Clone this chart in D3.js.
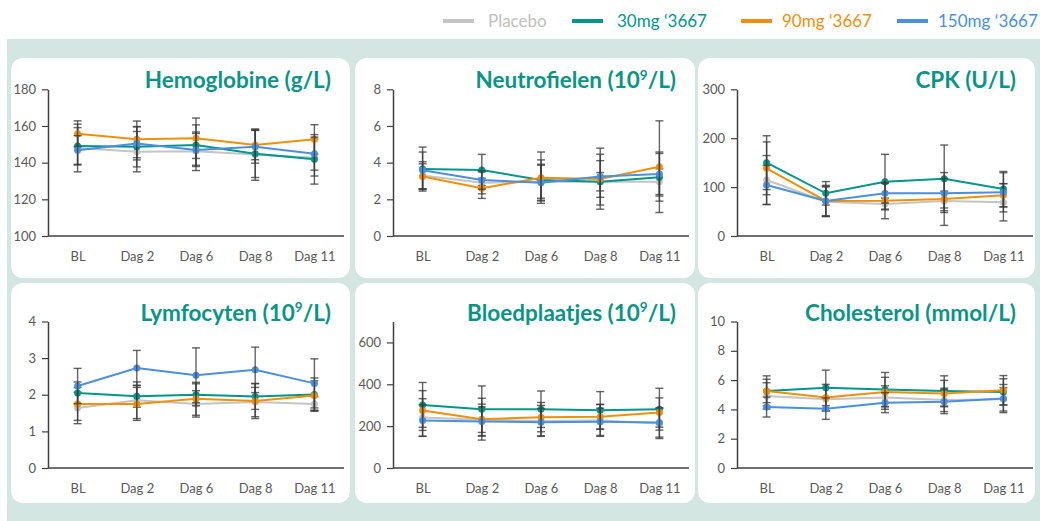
<!DOCTYPE html>
<html>
<head>
<meta charset="utf-8">
<script src="https://cdn.jsdelivr.net/npm/d3@7"></script>
<style>
  html, body { margin: 0; padding: 0; background: #ffffff; }
  svg { display: block; font-family: "Lato", "Open Sans", sans-serif; }
</style>
</head>
<body>
<svg id="chart" width="1040" height="521"></svg>
<script>
// Visit labels shared by every panel
const visits = ["BL", "Dag 2", "Dag 6", "Dag 8", "Dag 11"];

// Treatment groups (legend order)
const groups = ["Placebo", "30mg \u20183667", "90mg \u20183667", "150mg \u20183667"];
const groupColors = ["#c4c4c4", "#00968a", "#f0900a", "#4a8fe0"];

// Means per group (rows: Placebo, 30mg, 90mg, 150mg) and standard deviations
const hbMeans = [
  [148.0, 146.0, 146.2, 144.4, 142.7],
  [149.1, 148.7, 149.6, 144.9, 141.8],
  [155.8, 152.7, 153.3, 149.6, 152.7],
  [146.7, 150.5, 146.9, 148.7, 144.9]
];
const hbSD = [
  [13, 11, 10.5, 14, 10],
  [10, 11, 11, 13, 13.5],
  [7, 10, 11, 8, 8],
  [8, 9, 9, 9, 9]
];

const neutMeans = [
  [3.30, 2.90, 2.96, 2.96, 2.96],
  [3.65, 3.60, 3.05, 2.96, 3.20],
  [3.24, 2.60, 3.18, 3.11, 3.78],
  [3.58, 3.05, 2.91, 3.24, 3.38]
];
const neutSD = [
  [0.75, 0.60, 0.90, 0.50, 0.70],
  [1.20, 0.85, 1.10, 1.50, 1.30],
  [0.70, 0.55, 1.40, 1.00, 2.50],
  [1.00, 0.50, 1.00, 1.55, 1.20]
];

const cpkMeans = [
  [114.5, 70.2, 65.5, 71.6, 68.9],
  [150.0, 87.3, 111.0, 117.0, 96.0],
  [138.4, 71.6, 72.3, 75.7, 83.2],
  [104.3, 71.6, 87.3, 87.3, 89.3]
];
const cpkSD = [
  [50, 30, 12, 20, 38],
  [55, 24, 56, 69, 36],
  [54, 32, 37, 54, 24],
  [40, 30, 20, 30, 40]
];

const lymMeans = [
  [1.64, 1.85, 1.75, 1.80, 1.75],
  [2.05, 1.96, 2.00, 1.95, 2.01],
  [1.75, 1.75, 1.89, 1.83, 1.98],
  [2.24, 2.73, 2.53, 2.68, 2.31]
];
const lymSD = [
  [0.43, 0.50, 0.36, 0.40, 0.20],
  [0.30, 0.30, 0.30, 0.35, 0.45],
  [0.45, 0.45, 0.45, 0.48, 0.40],
  [0.48, 0.48, 0.75, 0.62, 0.67]
];

const pltMeans = [
  [241, 230, 225, 227, 212.7],
  [301.6, 281, 281, 276, 281],
  [274.6, 233.3, 243, 244.4, 265],
  [227, 222, 219, 220.6, 217.5]
];
const pltSD = [
  [90, 75, 74, 76, 72],
  [107, 111, 87, 89, 100],
  [95, 100, 70, 60, 70],
  [75, 70, 65, 65, 70]
];

const cholMeans = [
  [4.92, 4.69, 4.81, 4.65, 4.69],
  [5.26, 5.47, 5.35, 5.26, 5.19],
  [5.26, 4.81, 5.19, 5.08, 5.31],
  [4.16, 4.05, 4.46, 4.53, 4.74]
];
const cholSD = [
  [0.90, 0.80, 0.80, 0.80, 0.80],
  [1.03, 1.21, 1.17, 1.03, 0.90],
  [0.80, 0.90, 1.00, 0.90, 1.00],
  [0.68, 0.73, 0.68, 0.82, 0.96]
];

// Panel titles (base text, superscript part, trailing text) and y tick labels
const titles = [
  ["Hemoglobine (g/L)", "", ""],
  ["Neutrofielen (10", "9", "/L)"],
  ["CPK (U/L)", "", ""],
  ["Lymfocyten (10", "9", "/L)"],
  ["Bloedplaatjes (10", "9", "/L)"],
  ["Cholesterol (mmol/L)", "", ""]
];
const hbTicks = [100, 120, 140, 160, 180];
const neutTicks = [0, 2, 4, 6, 8];
const cpkTicks = [0, 100, 200, 300];
const lymTicks = [0, 1, 2, 3, 4];
const pltTicks = [0, 200, 400, 600];
const cholTicks = [0, 2, 4, 6, 8, 10];

const panelData = [
  { means: hbMeans, sd: hbSD, ticks: hbTicks, domain: [100, 180] },
  { means: neutMeans, sd: neutSD, ticks: neutTicks, domain: [0, 8] },
  { means: cpkMeans, sd: cpkSD, ticks: cpkTicks, domain: [0, 300] },
  { means: lymMeans, sd: lymSD, ticks: lymTicks, domain: [0, 4] },
  { means: pltMeans, sd: pltSD, ticks: pltTicks, domain: [0, 700] },
  { means: cholMeans, sd: cholSD, ticks: cholTicks, domain: [0, 10] }
];

// ---- layout ----
const svg = d3.select("#chart");
const mint = "#d4e6e1";
const titleColor = "#0b9485";
const axisColor = "#404040";
const tickText = "#595959";

svg.append("rect").attr("x", 7).attr("y", 39).attr("width", 1033).attr("height", 482).attr("fill", mint);

const cols = [
  { x: 11, w: 339, plot: [48, 344] },
  { x: 355, w: 340, plot: [393, 689] },
  { x: 698, w: 337, plot: [737, 1033] }
];
const rows = [
  { y: 58, h: 220, plot: [236, 89.3] },
  { y: 283, h: 220, plot: [468, 321.5] }
];

panelData.forEach((p, i) => {
  const c = cols[i % 3], r = rows[Math.floor(i / 3)];
  const g = svg.append("g");

  g.append("rect")
    .attr("x", c.x).attr("y", r.y).attr("width", c.w).attr("height", r.h)
    .attr("rx", 12).attr("ry", 12).attr("fill", "#ffffff");

  const x = d3.scalePoint().domain(visits).range(c.plot).padding(0.5);
  const y = d3.scaleLinear().domain(p.domain).range(r.plot);

  // y axis
  const yAxis = g.append("g")
    .attr("transform", `translate(${c.plot[0]},0)`)
    .call(d3.axisLeft(y).tickValues(p.ticks).tickFormat(d3.format("d"))
      .tickSize(6).tickPadding(6).tickSizeOuter(0));
  yAxis.select(".domain").attr("stroke", axisColor).attr("stroke-width", 1.5);
  yAxis.selectAll(".tick line").attr("stroke", axisColor).attr("stroke-width", 1.2);
  yAxis.selectAll(".tick text").attr("fill", tickText).attr("font-size", 13)
    .attr("font-family", "Lato, 'Open Sans', sans-serif");

  // x axis: baseline with category labels
  const xAxis = g.append("g")
    .attr("transform", `translate(0,${r.plot[0]})`)
    .call(d3.axisBottom(x).tickSize(0).tickPadding(16));
  xAxis.select(".domain").attr("stroke", axisColor).attr("stroke-width", 1.5)
    .attr("d", `M${c.plot[0]},0H${c.plot[1]}`);
  xAxis.selectAll(".tick text").attr("fill", tickText).attr("font-size", 13)
    .attr("font-family", "Lato, 'Open Sans', sans-serif");

  // title
  const t = titles[i];
  const title = g.append("text")
    .attr("x", c.x + c.w - 19)
    .attr("y", r.plot[1] - 1)
    .attr("text-anchor", "end")
    .attr("fill", titleColor)
    .attr("font-size", 22.5)
    .attr("font-weight", 700);
  title.append("tspan").text(t[0]);
  if (t[1]) {
    title.append("tspan").attr("font-size", 13.5).attr("dy", -8.5).text(t[1]);
    title.append("tspan").attr("dy", 8.5).text(t[2]);
  }

  // series: line, markers, error bars
  p.means.forEach((vals, s) => {
    const color = groupColors[s];
    const pts = vals.map((v, k) => ({ cat: visits[k], v, sd: p.sd[s][k] }));

    g.append("path")
      .datum(pts)
      .attr("fill", "none")
      .attr("stroke", color)
      .attr("stroke-width", 2)
      .attr("d", d3.line().x(d => x(d.cat)).y(d => y(d.v)));

    g.selectAll(null).data(pts).enter().append("circle")
      .attr("cx", d => x(d.cat)).attr("cy", d => y(d.v)).attr("r", 3.5)
      .attr("fill", color);

    const eb = g.selectAll(null).data(pts).enter().append("g")
      .attr("stroke", "#3c3c3c").attr("stroke-opacity", 0.8).attr("stroke-width", 1.4);
    eb.append("line")
      .attr("x1", d => x(d.cat)).attr("x2", d => x(d.cat))
      .attr("y1", d => y(d.v - d.sd)).attr("y2", d => y(d.v + d.sd));
    eb.append("line")
      .attr("x1", d => x(d.cat) - 4).attr("x2", d => x(d.cat) + 4)
      .attr("y1", d => y(d.v + d.sd)).attr("y2", d => y(d.v + d.sd));
    eb.append("line")
      .attr("x1", d => x(d.cat) - 4).attr("x2", d => x(d.cat) + 4)
      .attr("y1", d => y(d.v - d.sd)).attr("y2", d => y(d.v - d.sd));
  });
});

// ---- legend ----
const legendX = [443, 572, 741, 897];
const legend = svg.append("g");
groups.forEach((name, i) => {
  const item = legend.append("g").attr("transform", `translate(${legendX[i]},21)`);
  item.append("line").attr("x1", 0).attr("x2", 31).attr("y1", 0).attr("y2", 0)
    .attr("stroke", groupColors[i]).attr("stroke-width", 4);
  item.append("text").attr("x", i < 2 ? 45 : 41).attr("y", 6)
    .attr("fill", i === 0 ? "#c0c0c0" : groupColors[i])
    .attr("font-size", 17)
    .text(name);
});
</script>
</body>
</html>
